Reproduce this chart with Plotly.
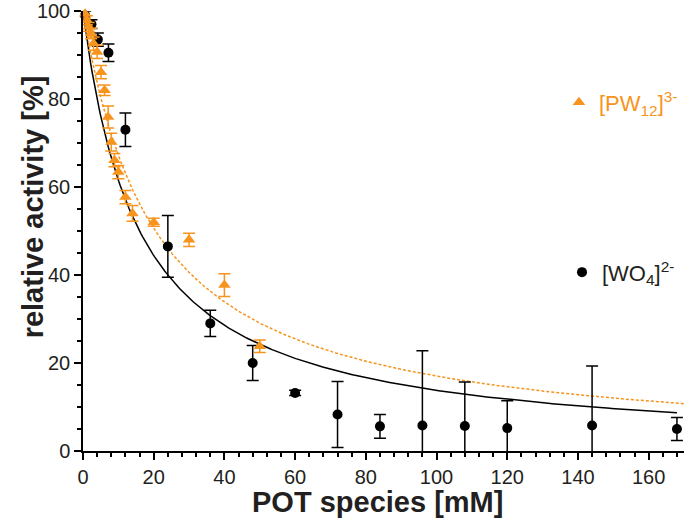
import numpy as np
import plotly.graph_objects as go

# ---- data ----
wo4_x = [0.6, 2.4, 4.2, 7.2, 12, 24, 36, 48, 60, 72, 84, 96, 108, 120, 144, 168]
wo4_y = [99, 97, 93.5, 90.5, 73, 46.5, 29, 20, 13.2, 8.3, 5.6, 5.8, 5.7, 5.2, 5.8, 5.0]
wo4_err = [1, 1, 1.5, 2, 3.8, 7, 3, 4, 0.6, 7.5, 2.7, 17, 10, 6.2, 13.5, 2.6]

pw_x = [0.6, 1.1, 1.6, 2.3, 3.0, 4.0, 5.1, 6.1, 7.1, 8.0, 8.9, 10, 12, 14, 20, 30, 40, 50]
pw_y = [99.4, 97.9, 96.4, 94.9, 92.6, 90.7, 86.1, 82, 75.9, 70.2, 66.1, 63.4, 57.7, 54, 52, 48, 37.7, 23.8]
pw_err = [1, 1, 1, 1.2, 1.5, 1.5, 1.5, 1.2, 2.5, 2, 1.5, 1.5, 1.5, 1.8, 0.9, 1.5, 2.6, 1.4]

# fitted hyperbolic inhibition curves y = top / (1 + x/K), parameters
wo4_fit = dict(top=100, K=16.0, xmax=168)
pw_fit = dict(top=100, K=20.5, xmax=170)

x_ticks = [0, 20, 40, 60, 80, 100, 120, 140, 160]
y_ticks = [0, 20, 40, 60, 80, 100]

ORANGE = "#f7941d"
BLACK = "#000000"
TXT = "#231f20"
FONT = "Liberation Sans Narrow, Arial Narrow, Liberation Sans, Arial, sans-serif"

fig = go.Figure()

xf1 = np.linspace(0, wo4_fit["xmax"], 400)
fig.add_trace(go.Scatter(x=xf1, y=wo4_fit["top"] / (1 + xf1 / wo4_fit["K"]), mode="lines",
                         line=dict(color=BLACK, width=1.5), showlegend=False, hoverinfo="skip",
                         cliponaxis=False))
xf2 = np.linspace(0, pw_fit["xmax"], 400)
fig.add_trace(go.Scatter(x=xf2, y=pw_fit["top"] / (1 + xf2 / pw_fit["K"]), mode="lines",
                         line=dict(color=ORANGE, width=1.5, dash="3px,2px"), showlegend=False,
                         hoverinfo="skip", cliponaxis=False))

fig.add_trace(go.Scatter(x=wo4_x, y=wo4_y, mode="markers", name="[WO<sub>4</sub>]<sup>2-</sup>",
                         marker=dict(symbol="circle", size=10, color=BLACK),
                         error_y=dict(type="data", array=wo4_err, color=BLACK, thickness=1.5, width=6),
                         cliponaxis=False, legend="legend2"))
fig.add_trace(go.Scatter(x=pw_x, y=pw_y, mode="markers", name="[PW<sub>12</sub>]<sup>3-</sup>",
                         marker=dict(symbol="triangle-up", size=11, color=ORANGE),
                         error_y=dict(type="data", array=pw_err, color=ORANGE, thickness=1.5, width=6),
                         cliponaxis=False, legend="legend"))

axis_common = dict(showline=True, linecolor=BLACK, linewidth=1.5, ticks="outside",
                   ticklen=7, tickwidth=1.5, tickcolor=BLACK, showgrid=False, zeroline=False,
                   tickfont=dict(family=FONT, size=20, color=TXT), mirror=False, automargin=False,
                   ticklabeloverflow="allow")

fig.update_layout(
    width=685, height=525,
    margin=dict(l=83, r=1, t=11, b=74, autoexpand=False),
    paper_bgcolor="white", plot_bgcolor="white",
    showlegend=True,
    legend=dict(x=0.792, xanchor="left", y=0.792, yanchor="middle", bgcolor="rgba(0,0,0,0)",
                font=dict(family=FONT, size=22, color=ORANGE), itemwidth=30),
    legend2=dict(x=0.797, xanchor="left", y=0.406, yanchor="middle", bgcolor="rgba(0,0,0,0)",
                 font=dict(family=FONT, size=22, color=TXT), itemwidth=30),
    xaxis=dict(range=[0, 170], tickvals=x_ticks, ticktext=[str(v) for v in x_ticks],
               minor=dict(dtick=4, tick0=0, ticks="outside", ticklen=4, tickwidth=1.5, tickcolor=BLACK),
               **axis_common),
    yaxis=dict(range=[0, 100], tickvals=y_ticks, ticktext=[str(v) for v in y_ticks],
               minor=dict(dtick=5, tick0=0, ticks="outside", ticklen=4, tickwidth=1.5, tickcolor=BLACK),
               **axis_common),
    annotations=[
        dict(text="<b>relative activity [%]</b>", x=-0.083, y=0.554, xref="paper", yref="paper",
             xanchor="center", yanchor="middle",
             textangle=-90, showarrow=False, font=dict(family=FONT, size=29, color=TXT)),
        dict(text="<b>POT species [mM]</b>", x=0.49, y=-0.115, xref="paper", yref="paper",
             xanchor="center", yanchor="middle",
             showarrow=False, font=dict(family=FONT, size=29, color=TXT)),
    ],
)

fig.write_html("out.html", config={"displayModeBar": False},
               post_script="document.body.style.margin='0';")
